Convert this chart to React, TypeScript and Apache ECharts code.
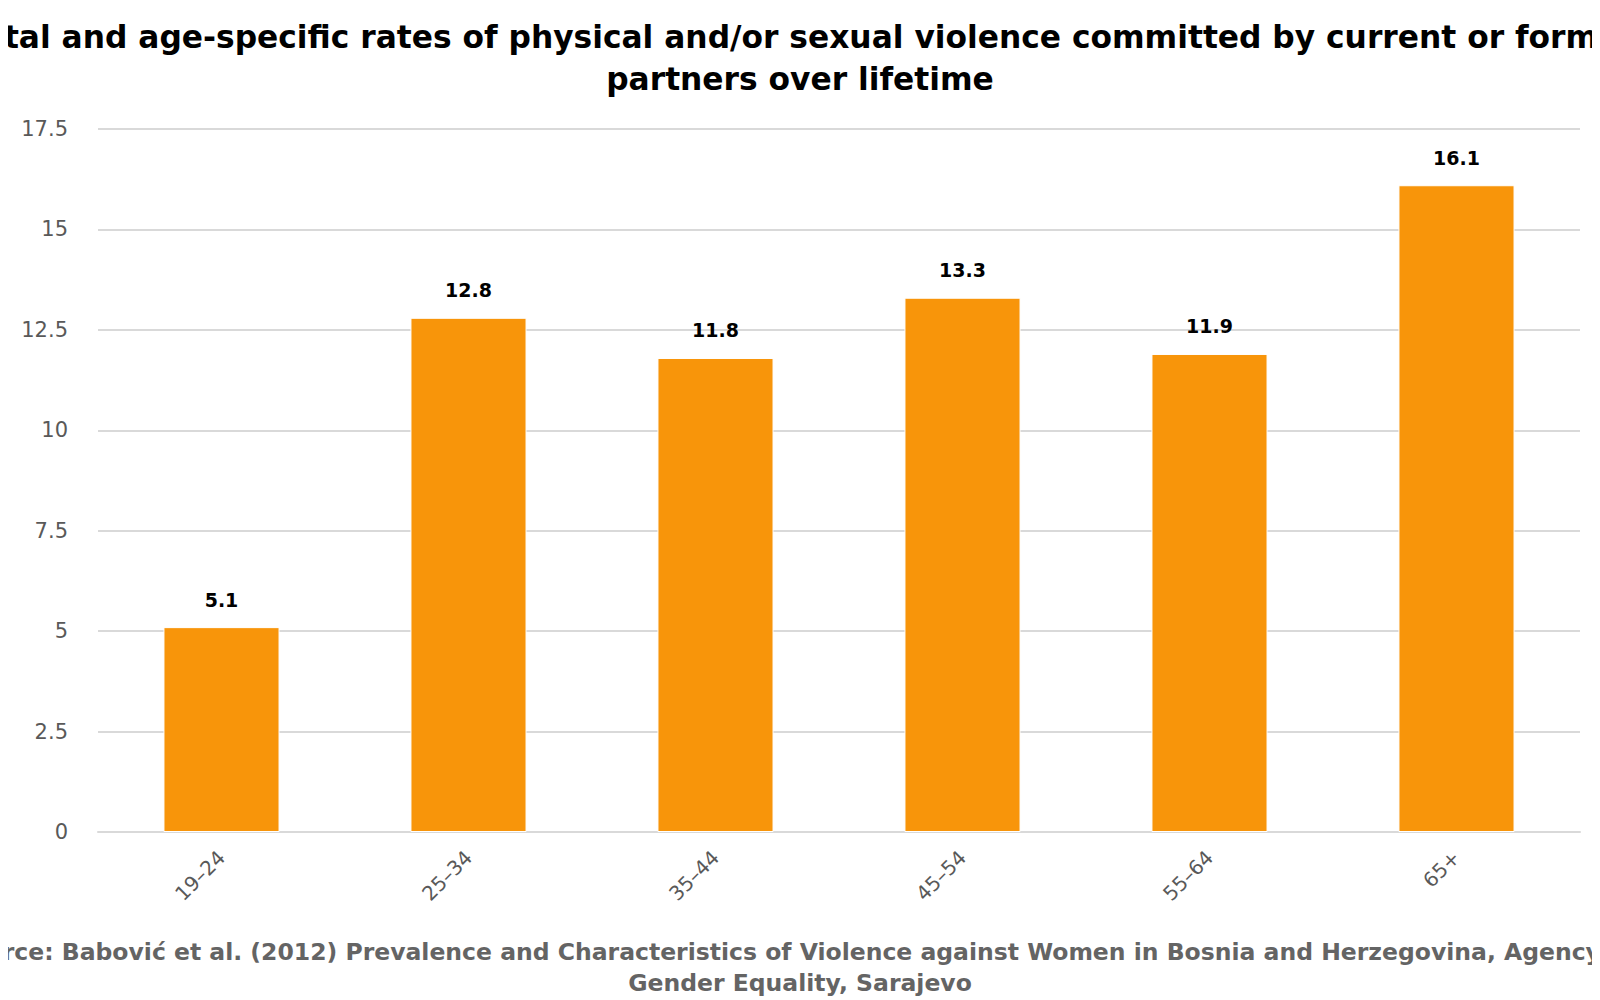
import React, { useEffect, useRef } from "react";
import * as echarts from "echarts";

const categories = ["19–24", "25–34", "35–44", "45–54", "55–64", "65+"];
const values = [5.1, 12.8, 11.8, 13.3, 11.9, 16.1];
const titleText =
  "Total and age-specific rates of physical and/or sexual violence committed by current or former\npartners over lifetime";
const sourceText =
  "Source: Babović et al. (2012) Prevalence and Characteristics of Violence against Women in Bosnia and Herzegovina, Agency for\nGender Equality, Sarajevo";

export default function App() {
  const ref = useRef<HTMLDivElement>(null);
  useEffect(() => {
    if (!ref.current) return;
    const chart = echarts.init(ref.current, undefined, { renderer: "svg" });
    chart.setOption({
      animation: false,
      backgroundColor: "#ffffff",
      graphic: [
        {
          type: "text",
          x: 792,
          y: 8,
          style: {
            text: titleText,
            align: "center",
            verticalAlign: "top",
            font: "bold 31.3px 'DejaVu Sans'",
            lineHeight: 42,
            fill: "#000000",
          },
        },
        {
          type: "text",
          x: 792,
          y: 928,
          style: {
            text: sourceText,
            align: "center",
            verticalAlign: "top",
            font: "bold 23.5px 'DejaVu Sans'",
            lineHeight: 31,
            fill: "#646464",
          },
        },
      ],
      grid: { left: 90, right: 20, top: 121, bottom: 168 },
      xAxis: {
        type: "category",
        data: categories,
        axisLine: { show: true, lineStyle: { color: "#d9d9d9", width: 2 } },
        axisTick: { show: false },
        axisLabel: {
          rotate: 45,
          margin: 22,
          color: "#595959",
          fontSize: 20,
          fontFamily: "DejaVu Sans",
        },
      },
      yAxis: {
        type: "value",
        min: 0,
        max: 17.5,
        interval: 2.5,
        axisLine: { show: false },
        axisTick: { show: false },
        splitLine: { lineStyle: { color: "#d9d9d9", width: 2 } },
        axisLabel: {
          margin: 30,
          color: "#595959",
          fontSize: 21,
          fontFamily: "DejaVu Sans",
        },
      },
      series: [
        {
          type: "bar",
          data: values,
          barWidth: "47%",
          itemStyle: { color: "#f8950a", borderColor: "#ffffff", borderWidth: 1 },
          label: {
            show: true,
            position: "top",
            distance: 18,
            color: "#000000",
            fontSize: 19,
            fontWeight: "bold",
            fontFamily: "DejaVu Sans",
            formatter: (p: any) => p.value.toFixed(1),
          },
        },
      ],
    });
    return () => chart.dispose();
  }, []);
  return <div ref={ref} style={{ width: 1592, height: 992 }} />;
}
